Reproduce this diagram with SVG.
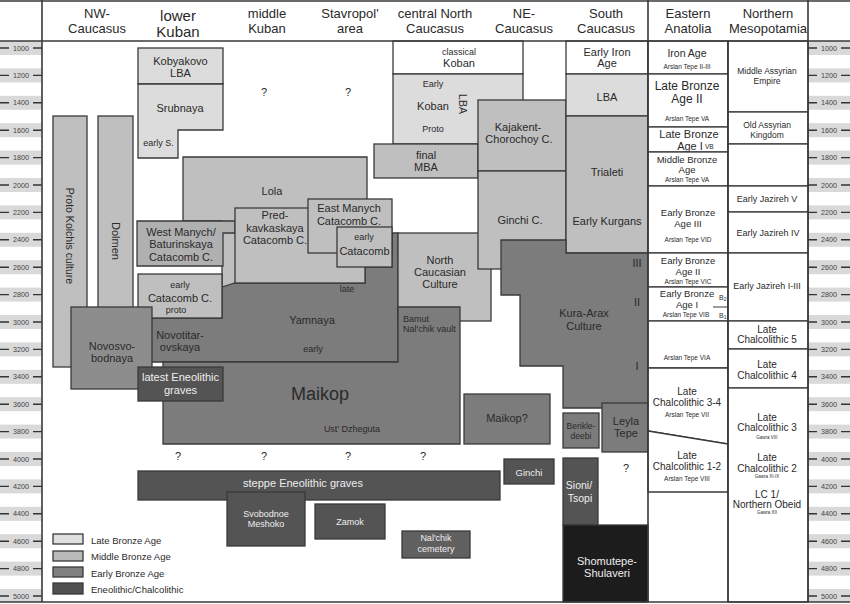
<svg xmlns="http://www.w3.org/2000/svg" width="850" height="604" viewBox="0 0 850 604">
<style>
text{font-family:"Liberation Sans",Arial,sans-serif;fill:#2a2a2a;text-anchor:middle;dominant-baseline:central}
.b{stroke:#3a3a3a;stroke-width:1.3}
.w{fill:#ffffff}
.lba{fill:#dcdcdc}
.mba{fill:#bfbfbf}
.mbd{fill:#b0b0b0}
.eba{fill:#7c7c7c}
.nov{fill:#8d8d8d}
.eneo{fill:#545454}
.blk{fill:#1c1c1c}
.h{font-size:13px}
.hl{font-size:15px}
.t{font-size:11px}
.s{font-size:9px}
.xs{font-size:6.5px}
.lt{fill:#eeeeee}
.tk{font-size:7.2px;fill:#444}
.band{fill:#d9d9d9}
.ln{stroke:#333;stroke-width:1.4;fill:none}
.gl{stroke:#3a3a3a;stroke-width:1.3;fill:none}
</style>

<!-- axes bands and ticks -->
<g id="axis-left">
<rect class="band" x="0" y="41" width="42" height="14"/>
<rect class="band" x="0" y="68.4" width="42" height="14"/>
<rect class="band" x="0" y="95.8" width="42" height="14"/>
<rect class="band" x="0" y="123.2" width="42" height="14"/>
<rect class="band" x="0" y="150.6" width="42" height="14"/>
<rect class="band" x="0" y="178" width="42" height="14"/>
<rect class="band" x="0" y="205.4" width="42" height="14"/>
<rect class="band" x="0" y="232.8" width="42" height="14"/>
<rect class="band" x="0" y="260.2" width="42" height="14"/>
<rect class="band" x="0" y="287.6" width="42" height="14"/>
<rect class="band" x="0" y="315" width="42" height="14"/>
<rect class="band" x="0" y="342.4" width="42" height="14"/>
<rect class="band" x="0" y="369.8" width="42" height="14"/>
<rect class="band" x="0" y="397.2" width="42" height="14"/>
<rect class="band" x="0" y="424.6" width="42" height="14"/>
<rect class="band" x="0" y="452" width="42" height="14"/>
<rect class="band" x="0" y="479.4" width="42" height="14"/>
<rect class="band" x="0" y="506.8" width="42" height="14"/>
<rect class="band" x="0" y="534.2" width="42" height="14"/>
<rect class="band" x="0" y="561.6" width="42" height="14"/>
<rect class="band" x="0" y="589" width="42" height="13"/>
<path class="ln" d="M0 48H9M33 48H42M0 75.4H9M33 75.4H42M0 102.8H9M33 102.8H42M0 130.2H9M33 130.2H42M0 157.6H9M33 157.6H42M0 185H9M33 185H42M0 212.4H9M33 212.4H42M0 239.8H9M33 239.8H42M0 267.2H9M33 267.2H42M0 294.6H9M33 294.6H42M0 322H9M33 322H42M0 349.4H9M33 349.4H42M0 376.8H9M33 376.8H42M0 404.2H9M33 404.2H42M0 431.6H9M33 431.6H42M0 459H9M33 459H42M0 486.4H9M33 486.4H42M0 513.8H9M33 513.8H42M0 541.2H9M33 541.2H42M0 568.6H9M33 568.6H42M0 596H9M33 596H42"/>
<text class="tk" x="21" y="48">1000</text>
<text class="tk" x="21" y="75.4">1200</text>
<text class="tk" x="21" y="102.8">1400</text>
<text class="tk" x="21" y="130.2">1600</text>
<text class="tk" x="21" y="157.6">1800</text>
<text class="tk" x="21" y="185">2000</text>
<text class="tk" x="21" y="212.4">2200</text>
<text class="tk" x="21" y="239.8">2400</text>
<text class="tk" x="21" y="267.2">2600</text>
<text class="tk" x="21" y="294.6">2800</text>
<text class="tk" x="21" y="322">3000</text>
<text class="tk" x="21" y="349.4">3200</text>
<text class="tk" x="21" y="376.8">3400</text>
<text class="tk" x="21" y="404.2">3600</text>
<text class="tk" x="21" y="431.6">3800</text>
<text class="tk" x="21" y="459">4000</text>
<text class="tk" x="21" y="486.4">4200</text>
<text class="tk" x="21" y="513.8">4400</text>
<text class="tk" x="21" y="541.2">4600</text>
<text class="tk" x="21" y="568.6">4800</text>
<text class="tk" x="21" y="596">5000</text>
</g>
<g id="axis-right">
<rect class="band" x="808" y="41" width="42" height="14"/>
<rect class="band" x="808" y="68.4" width="42" height="14"/>
<rect class="band" x="808" y="95.8" width="42" height="14"/>
<rect class="band" x="808" y="123.2" width="42" height="14"/>
<rect class="band" x="808" y="150.6" width="42" height="14"/>
<rect class="band" x="808" y="178" width="42" height="14"/>
<rect class="band" x="808" y="205.4" width="42" height="14"/>
<rect class="band" x="808" y="232.8" width="42" height="14"/>
<rect class="band" x="808" y="260.2" width="42" height="14"/>
<rect class="band" x="808" y="287.6" width="42" height="14"/>
<rect class="band" x="808" y="315" width="42" height="14"/>
<rect class="band" x="808" y="342.4" width="42" height="14"/>
<rect class="band" x="808" y="369.8" width="42" height="14"/>
<rect class="band" x="808" y="397.2" width="42" height="14"/>
<rect class="band" x="808" y="424.6" width="42" height="14"/>
<rect class="band" x="808" y="452" width="42" height="14"/>
<rect class="band" x="808" y="479.4" width="42" height="14"/>
<rect class="band" x="808" y="506.8" width="42" height="14"/>
<rect class="band" x="808" y="534.2" width="42" height="14"/>
<rect class="band" x="808" y="561.6" width="42" height="14"/>
<rect class="band" x="808" y="589" width="42" height="13"/>
<path class="ln" d="M808 48H817M841 48H850M808 75.4H817M841 75.4H850M808 102.8H817M841 102.8H850M808 130.2H817M841 130.2H850M808 157.6H817M841 157.6H850M808 185H817M841 185H850M808 212.4H817M841 212.4H850M808 239.8H817M841 239.8H850M808 267.2H817M841 267.2H850M808 294.6H817M841 294.6H850M808 322H817M841 322H850M808 349.4H817M841 349.4H850M808 376.8H817M841 376.8H850M808 404.2H817M841 404.2H850M808 431.6H817M841 431.6H850M808 459H817M841 459H850M808 486.4H817M841 486.4H850M808 513.8H817M841 513.8H850M808 541.2H817M841 541.2H850M808 568.6H817M841 568.6H850M808 596H817M841 596H850"/>
<text class="tk" x="829" y="48">1000</text>
<text class="tk" x="829" y="75.4">1200</text>
<text class="tk" x="829" y="102.8">1400</text>
<text class="tk" x="829" y="130.2">1600</text>
<text class="tk" x="829" y="157.6">1800</text>
<text class="tk" x="829" y="185">2000</text>
<text class="tk" x="829" y="212.4">2200</text>
<text class="tk" x="829" y="239.8">2400</text>
<text class="tk" x="829" y="267.2">2600</text>
<text class="tk" x="829" y="294.6">2800</text>
<text class="tk" x="829" y="322">3000</text>
<text class="tk" x="829" y="349.4">3200</text>
<text class="tk" x="829" y="376.8">3400</text>
<text class="tk" x="829" y="404.2">3600</text>
<text class="tk" x="829" y="431.6">3800</text>
<text class="tk" x="829" y="459">4000</text>
<text class="tk" x="829" y="486.4">4200</text>
<text class="tk" x="829" y="513.8">4400</text>
<text class="tk" x="829" y="541.2">4600</text>
<text class="tk" x="829" y="568.6">4800</text>
<text class="tk" x="829" y="596">5000</text>
</g>

<!-- header -->
<g id="header">
<text class="h" x="97" y="13">NW-</text><text class="h" x="97" y="28">Caucasus</text>
<text class="hl" x="178" y="15">lower</text><text class="hl" x="178" y="31">Kuban</text>
<text class="h" x="267" y="13">middle</text><text class="h" x="267" y="28">Kuban</text>
<text class="h" x="350" y="13">Stavropol'</text><text class="h" x="350" y="28">area</text>
<text class="h" x="435" y="13">central North</text><text class="h" x="435" y="28">Caucasus</text>
<text class="h" x="524" y="13">NE-</text><text class="h" x="524" y="28">Caucasus</text>
<text class="h" x="606" y="13">South</text><text class="h" x="606" y="28">Caucasus</text>
<text class="h" x="688" y="13">Eastern</text><text class="h" x="688" y="28">Anatolia</text>
<text class="h" x="768" y="13">Northern</text><text class="h" x="768" y="28">Mesopotamia</text>
</g>

<!-- NW Caucasus -->
<g id="proto-kolchis"><rect class="b mba" x="53" y="116" width="34" height="251"/><text class="t" style="font-size:10.5px" transform="translate(70 236) rotate(90)">Proto Kolchis culture</text></g>
<g id="dolmen"><rect class="b mba" x="98" y="116" width="35" height="230"/><text class="t" transform="translate(115.5 241) rotate(90)">Dolmen</text></g>

<!-- lower Kuban etc -->
<g id="kobyakovo"><rect class="b lba" x="138" y="48" width="85" height="36"/><text class="t" x="180.5" y="61">Kobyakovo</text><text class="t" x="180.5" y="73">LBA</text></g>
<g id="srubnaya"><polygon class="b lba" points="138,84 223,84 223,130 178,130 178,158 138,158"/><text class="t" x="180" y="108">Srubnaya</text><text class="s" x="158.5" y="143">early S.</text></g>
<g id="lola"><polygon class="b mba" points="183,157 367,157 367,290 222,290 222,221 183,221"/><text class="t" x="272" y="191">Lola</text></g>
<g id="yamnaya"><polygon class="b eba" points="222,287 235,283 365,283 365,267 392,267 392,233 398,233 398,362 140,362 140,318 222,318"/>
<text class="s" x="347" y="289">late</text><text class="t" x="312" y="320">Yamnaya</text><text class="s" x="313" y="349">early</text>
<text class="t" x="180" y="335">Novotitar-</text><text class="t" x="180" y="347">ovskaya</text></g>
<g id="west-manych"><polygon class="b mbd" points="137,221 235,221 235,233 223,233 223,266 137,266"/><text class="t" x="181" y="232">West Manych/</text><text class="t" x="181" y="244">Baturinskaya</text><text class="t" x="181" y="257">Catacomb C.</text></g>
<g id="predkavkaskaya"><rect class="b mba" x="235" y="208" width="130" height="75"/><text class="t" x="275" y="215">Pred-</text><text class="t" x="275" y="228">kavkaskaya</text><text class="t" x="275" y="240">Catacomb C.</text></g>
<g id="east-manych"><rect class="b mba" x="308" y="199" width="84" height="54"/><text class="t" x="349" y="208">East Manych</text><text class="t" x="349" y="221">Catacomb C.</text></g>
<g id="early-catacomb"><rect class="b mba" x="337" y="227" width="55" height="40"/><text class="s" x="364" y="237">early</text><text class="t" x="364.5" y="251">Catacomb</text></g>
<g id="early-catacomb-c"><rect class="b mba" x="138" y="274" width="84" height="44"/><text class="s" x="180" y="285">early</text><text class="t" x="180" y="298">Catacomb C.</text><text class="s" x="176" y="310">proto</text></g>
<g id="novosvobodnaya"><rect class="b nov" x="71" y="307" width="81" height="82"/><text class="t" x="112" y="346">Novosvo-</text><text class="t" x="112" y="358">bodnaya</text></g>
<g id="north-caucasian"><rect class="b mba" x="398" y="233" width="93" height="88"/><text class="t" x="440" y="260">North</text><text class="t" x="440" y="272">Caucasian</text><text class="t" x="440" y="284">Culture</text></g>
<g id="maikop"><polygon class="b eba" points="163,362 398,362 398,307 460,307 460,444 163,444"/>
<text x="320" y="394" style="font-size:18px">Maikop</text>
<text class="s" x="403" y="319" style="text-anchor:start">Bamut</text><text class="s" x="403" y="329" style="text-anchor:start">Nal'chik vault</text>
<text class="s" x="352" y="429">Ust' Dzheguta</text></g>
<g id="latest-eneolithic"><rect class="b eneo" x="138" y="367" width="85" height="34"/><text class="t lt" x="180.5" y="377">latest Eneolithic</text><text class="t lt" x="180.5" y="390">graves</text></g>

<!-- central North Caucasus -->
<g id="classical-koban"><rect class="b w" x="393" y="41" width="130" height="33"/><text class="s" x="459" y="52">classical</text><text class="t" x="459" y="63">Koban</text></g>
<g id="koban"><rect class="b lba" x="393" y="74" width="130" height="70"/><text class="s" x="433" y="84">Early</text><text class="t" x="433" y="106">Koban</text><text class="s" x="433" y="129">Proto</text><text class="t" style="font-size:10.5px" transform="translate(463 104) rotate(90)">LBA</text></g>
<g id="final-mba"><rect class="b mba" x="374" y="144" width="104" height="34"/><text class="t" x="426" y="155">final</text><text class="t" x="426" y="167">MBA</text></g>

<!-- NE Caucasus -->
<g id="kajakent"><rect class="b mba" x="478" y="100" width="88" height="71"/><text class="t" x="518" y="127">Kajakent-</text><text class="t" x="519" y="139">Chorochoy C.</text></g>
<g id="ginchi-c"><rect class="b mba" x="478" y="171" width="88" height="98"/><text class="t" x="520" y="220">Ginchi C.</text></g>

<!-- South Caucasus -->
<g id="early-iron-age"><rect class="b w" x="566" y="41" width="82" height="33"/><text class="t" x="607" y="52">Early Iron</text><text class="t" x="607" y="63">Age</text></g>
<g id="lba-sc"><rect class="b lba" x="566" y="74" width="82" height="42"/><text class="t" x="607" y="97">LBA</text></g>
<g id="trialeti"><rect class="b mba" x="566" y="116" width="82" height="137"/><text class="t" x="607" y="172">Trialeti</text><text class="t" x="607" y="221">Early Kurgans</text></g>
<g id="kura-arax"><polygon class="b eba" points="501,240 566,240 566,253 648,253 648,408 563,408 563,366 520,366 520,295 501,295"/>
<text class="t" x="584" y="313">Kura-Arax</text><text class="t" x="584" y="326">Culture</text>
<text class="t" x="637" y="263">III</text><text class="t" x="637" y="302">II</text><text class="t" x="637" y="366">I</text></g>
<g id="maikop-q"><rect class="b eba" x="464" y="394" width="86" height="50"/><text class="t" x="507" y="418">Maikop?</text></g>
<g id="berikldeebi"><rect class="b eba" x="563" y="413" width="36" height="35"/><text class="s" style="font-size:8.5px" x="581" y="426">Berikle-</text><text class="s" style="font-size:8.5px" x="581" y="436">deebi</text></g>
<g id="leyla-tepe"><rect class="b eba" x="602" y="403" width="46" height="49"/><text class="t" x="626" y="421">Leyla</text><text class="t" x="626" y="433">Tepe</text></g>
<g id="ginchi"><rect class="b eneo" x="504" y="459" width="50" height="25"/><text class="s lt" style="font-size:9.5px" x="529" y="472">Ginchi</text></g>
<g id="sioni"><rect class="b eneo" x="563" y="458" width="35" height="67"/><text class="t lt" style="font-size:10.5px" x="579" y="485">Sioni/</text><text class="t lt" style="font-size:10.5px" x="580" y="498">Tsopi</text></g>
<g id="shomutepe"><rect class="b blk" x="563" y="525" width="85" height="77"/><text class="t lt" x="607" y="561">Shomutepe-</text><text class="t lt" x="607" y="573">Shulaveri</text></g>

<!-- steppe Eneolithic -->
<g id="steppe-eneolithic"><rect class="b eneo" x="138" y="471" width="362" height="29"/><text class="t lt" x="303" y="483">steppe Eneolithic graves</text></g>
<g id="svobodnoe"><rect class="b eneo" x="227" y="492" width="78" height="54"/><text class="s lt" x="266" y="514">Svobodnoe</text><text class="s lt" x="266" y="524">Meshoko</text></g>
<g id="zamok"><rect class="b eneo" x="315" y="504" width="70" height="35"/><text class="s lt" x="350" y="522">Zamok</text></g>
<g id="nalchik-cemetery"><rect class="b" style="fill:#606060" x="402" y="531" width="68" height="27"/><text class="s lt" x="436" y="538">Nal'chik</text><text class="s lt" x="436" y="549">cemetery</text></g>

<!-- question marks -->
<g id="unknowns">
<text class="t" x="264" y="92">?</text><text class="t" x="348" y="92">?</text>
<text class="t" x="178" y="456">?</text><text class="t" x="264" y="456">?</text><text class="t" x="348" y="456">?</text><text class="t" x="423" y="456">?</text>
<text class="t" x="626" y="468">?</text>
</g>

<!-- Eastern Anatolia -->
<g id="ea-iron"><rect class="b w" x="648" y="41" width="80" height="33"/><text class="t" style="font-size:10.5px" x="687" y="53">Iron Age</text><text class="xs" x="687" y="66">Arslan Tepe II-III</text></g>
<g id="ea-lba2"><rect class="b w" x="648" y="74" width="80" height="53"/><text class="t" style="font-size:12px" x="687" y="86">Late Bronze</text><text class="t" style="font-size:12px" x="687" y="99">Age II</text><text class="xs" x="687" y="118">Arslan Tepe VA</text></g>
<g id="ea-lba1"><rect class="b w" x="648" y="127" width="80" height="25"/><text class="t" x="689" y="133.5">Late Bronze</text><text class="t" x="690" y="145.5">Age I</text><text class="xs" x="705" y="146" style="text-anchor:start">VB</text></g>
<g id="ea-mba"><rect class="b w" x="648" y="152" width="80" height="34"/><text class="s" style="font-size:9.5px" x="687" y="159">Middle Bronze</text><text class="s" style="font-size:9.5px" x="687" y="169">Age</text><text class="xs" x="687" y="179">Arslan Tepe VA</text></g>
<g id="ea-eba3"><rect class="b w" x="648" y="186" width="80" height="67"/><text class="s" style="font-size:9.5px" x="688" y="212">Early Bronze</text><text class="s" style="font-size:9.5px" x="688" y="223">Age III</text><text class="xs" x="688" y="239">Arslan Tepe VID</text></g>
<g id="ea-eba2"><rect class="b w" x="648" y="253" width="80" height="34"/><text class="s" style="font-size:9.5px" x="688" y="260">Early Bronze</text><text class="s" style="font-size:9.5px" x="688" y="271">Age II</text><text class="xs" x="688" y="281">Arslan Tepe VIC</text></g>
<g id="ea-eba1"><rect class="b w" x="648" y="287" width="80" height="34"/><text class="s" style="font-size:9.5px" x="687" y="293">Early Bronze</text><text class="s" style="font-size:9.5px" x="687" y="304">Age I</text><text class="xs" x="686" y="314">Arslan Tepe VIB</text>
<text class="xs" x="719" y="297" style="text-anchor:start;font-size:7px">B<tspan style="font-size:5px" dy="1.5">2</tspan></text><text class="xs" x="719" y="315" style="text-anchor:start;font-size:7px">B<tspan style="font-size:5px" dy="1.5">1</tspan></text>
<line class="gl" x1="713" y1="307" x2="728" y2="307" style="stroke-width:1"/></g>
<g id="ea-via"><rect class="b w" x="648" y="321" width="80" height="47"/><text class="xs" x="687" y="357">Arslan Tepe VIA</text></g>
<g id="ea-lc34"><polygon class="b w" points="648,368 728,368 728,444 648,431"/><text class="s" style="font-size:10px" x="687" y="391">Late</text><text class="s" style="font-size:10px" x="687" y="402">Chalcolithic 3-4</text><text class="xs" x="687" y="414">Arslan Tepe VII</text></g>
<g id="ea-lc12"><polygon class="b w" points="648,431 728,444 728,492 648,492"/><text class="s" style="font-size:10px" x="687" y="455">Late</text><text class="s" style="font-size:10px" x="687" y="466">Chalcolithic 1-2</text><text class="xs" x="687" y="478">Arslan Tepe VIII</text></g>

<!-- Northern Mesopotamia -->
<g id="middle-assyrian"><rect class="b w" x="728" y="41" width="80" height="71"/><text class="s" style="font-size:8.5px" x="767" y="71">Middle Assyrian</text><text class="s" style="font-size:8.5px" x="767" y="81">Empire</text></g>
<g id="old-assyrian"><rect class="b w" x="728" y="112" width="80" height="32"/><text class="s" style="font-size:8.5px" x="767" y="125">Old Assyrian</text><text class="s" style="font-size:8.5px" x="767" y="135">Kingdom</text></g>
<g id="nm-gap"><rect class="b w" x="728" y="144" width="80" height="42"/></g>
<g id="ej5"><rect class="b w" x="728" y="186" width="80" height="26"/><text class="s" x="767" y="199">Early Jazireh V</text></g>
<g id="ej4"><rect class="b w" x="728" y="212" width="80" height="41"/><text class="s" x="768" y="233">Early Jazireh IV</text></g>
<g id="ej13"><rect class="b w" x="728" y="253" width="80" height="68"/><text class="s" x="767" y="286">Early Jazireh I-III</text></g>
<g id="lc5"><rect class="b w" x="728" y="321" width="80" height="28"/><text class="s" style="font-size:10px" x="767" y="329">Late</text><text class="s" style="font-size:10px" x="767" y="339">Chalcolithic 5</text></g>
<g id="lc4"><rect class="b w" x="728" y="349" width="80" height="39"/><text class="s" style="font-size:10px" x="767" y="364">Late</text><text class="s" style="font-size:10px" x="767" y="375">Chalcolithic 4</text></g>
<g id="lc321"><rect class="b w" x="728" y="388" width="80" height="214"/>
<text class="s" style="font-size:10px" x="767" y="417">Late</text><text class="s" style="font-size:10px" x="767" y="427">Chalcolithic 3</text><text class="xs" style="font-size:4.5px" x="767" y="437">Gawra VIII</text>
<text class="s" style="font-size:10px" x="767" y="457">Late</text><text class="s" style="font-size:10px" x="767" y="468">Chalcolithic 2</text><text class="xs" style="font-size:4.5px" x="767" y="476">Gawra XI-IX</text>
<text class="s" style="font-size:10px" x="767" y="494">LC 1/</text><text class="s" style="font-size:10px" x="767" y="504">Northern Obeid</text><text class="xs" style="font-size:4.5px" x="767" y="512">Gawra XII</text></g>

<!-- frame lines -->
<g id="frame">
<path class="gl" style="stroke-width:1.6" d="M0 1H850M0 41H850M0 602H850M42 0V602M808 0V602M648 0V602M728 41V602"/>
</g>

<!-- legend -->
<g id="legend">
<rect class="b" style="fill:#e0e0e0" x="53" y="534" width="30" height="10"/><text class="s" style="font-size:9.5px;text-anchor:start" x="91" y="540">Late Bronze Age</text>
<rect class="b" style="fill:#bababa" x="53" y="551" width="30" height="10"/><text class="s" style="font-size:9.5px;text-anchor:start" x="91" y="556">Middle Bronze Age</text>
<rect class="b" style="fill:#808080" x="53" y="567" width="30" height="10"/><text class="s" style="font-size:9.5px;text-anchor:start" x="91" y="573">Early Bronze Age</text>
<rect class="b" style="fill:#505050" x="53" y="583" width="30" height="11"/><text class="s" style="font-size:9.5px;text-anchor:start" x="91" y="589">Eneolithic/Chalcolithic</text>
</g>
</svg>
